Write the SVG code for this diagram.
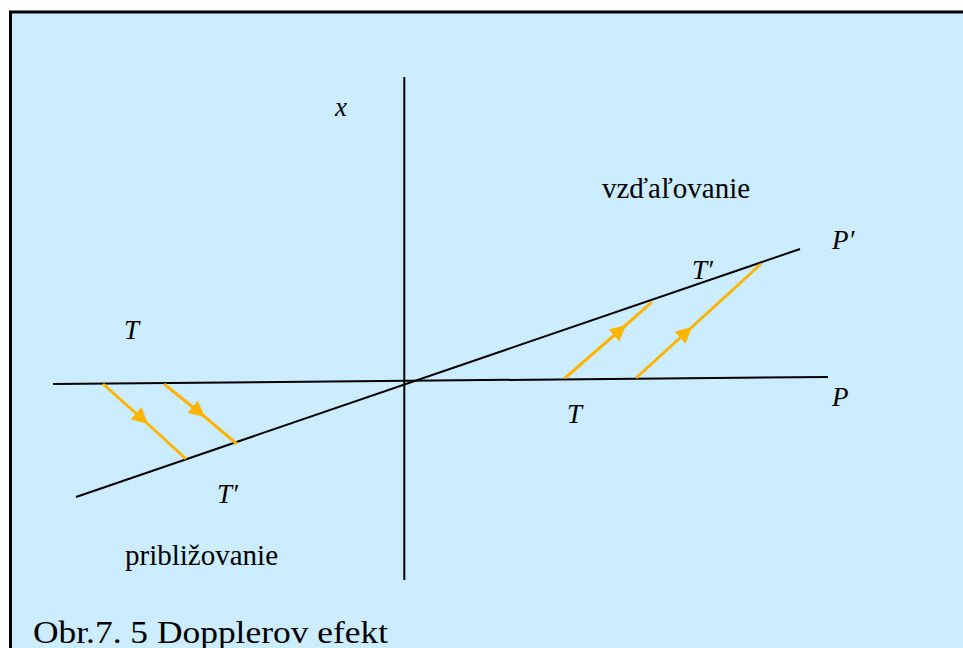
<svg xmlns="http://www.w3.org/2000/svg" width="963" height="648" viewBox="0 0 963 648">
  <style>
    .axis { stroke: #000; stroke-width: 2; fill: none; }
    .ray { stroke: #FFB400; stroke-width: 3; fill: none; marker-mid: url(#arr); }
    .lbl { font-family: "Liberation Serif", "Times New Roman", serif; font-style: italic; font-size: 27px; fill: #000; }
    .word { font-family: "Liberation Serif", "Times New Roman", serif; font-size: 29px; fill: #000; }
    .cap { font-family: "Liberation Serif", "Times New Roman", serif; font-size: 31px; fill: #000; }
  </style>
  <defs>
    <marker id="arr" markerUnits="userSpaceOnUse" markerWidth="18" markerHeight="18" viewBox="0 -9 17 18" refX="16" refY="0" orient="auto">
      <path d="M0,-8 L16,0 L0,8 z" fill="#FFB400"/>
    </marker>
  </defs>
  <rect x="0" y="0" width="963" height="648" fill="#FFFFFF"/>
  <rect id="frame" x="10.5" y="12" width="1000" height="700" fill="#CCECFF" stroke="#000" stroke-width="3"/>

  <g id="connectors">
    <line id="x-axis" class="axis" x1="404.3" y1="77" x2="404.3" y2="580"/>
    <line id="line-P" class="axis" x1="53" y1="384" x2="828" y2="377"/>
    <line id="line-Pprime" class="axis" x1="76" y1="497" x2="800" y2="249"/>
    <path id="ray-l1" class="ray" d="M103,384 L148,424 L186,459"/>
    <path id="ray-l2" class="ray" d="M164,384 L205,417 L237,444"/>
    <path id="ray-r1" class="ray" d="M565,378 L626,325 L652,302"/>
    <path id="ray-r2" class="ray" d="M636,378 L692,327 L761,264"/>
  </g>

  <g id="label-x"><text class="lbl" x="335" y="116">x</text></g>
  <g id="label-T-left"><text class="lbl" x="124" y="339">T</text></g>
  <g id="label-Tp-left"><text class="lbl" x="217" y="503">T′</text></g>
  <g id="label-T-right"><text class="lbl" x="567" y="423">T</text></g>
  <g id="label-Tp-right"><text class="lbl" x="692" y="279">T′</text></g>
  <g id="label-Pp"><text class="lbl" x="832" y="249">P′</text></g>
  <g id="label-P"><text class="lbl" x="832" y="406">P</text></g>
  <g id="label-vzdalovanie"><text class="word" x="602" y="198">vzďaľovanie</text></g>
  <g id="label-priblizovanie"><text class="word" x="125" y="565">približovanie</text></g>
  <g id="caption"><text class="cap" x="33" y="643" textLength="355" lengthAdjust="spacingAndGlyphs">Obr.7. 5 Dopplerov efekt</text></g>
</svg>
